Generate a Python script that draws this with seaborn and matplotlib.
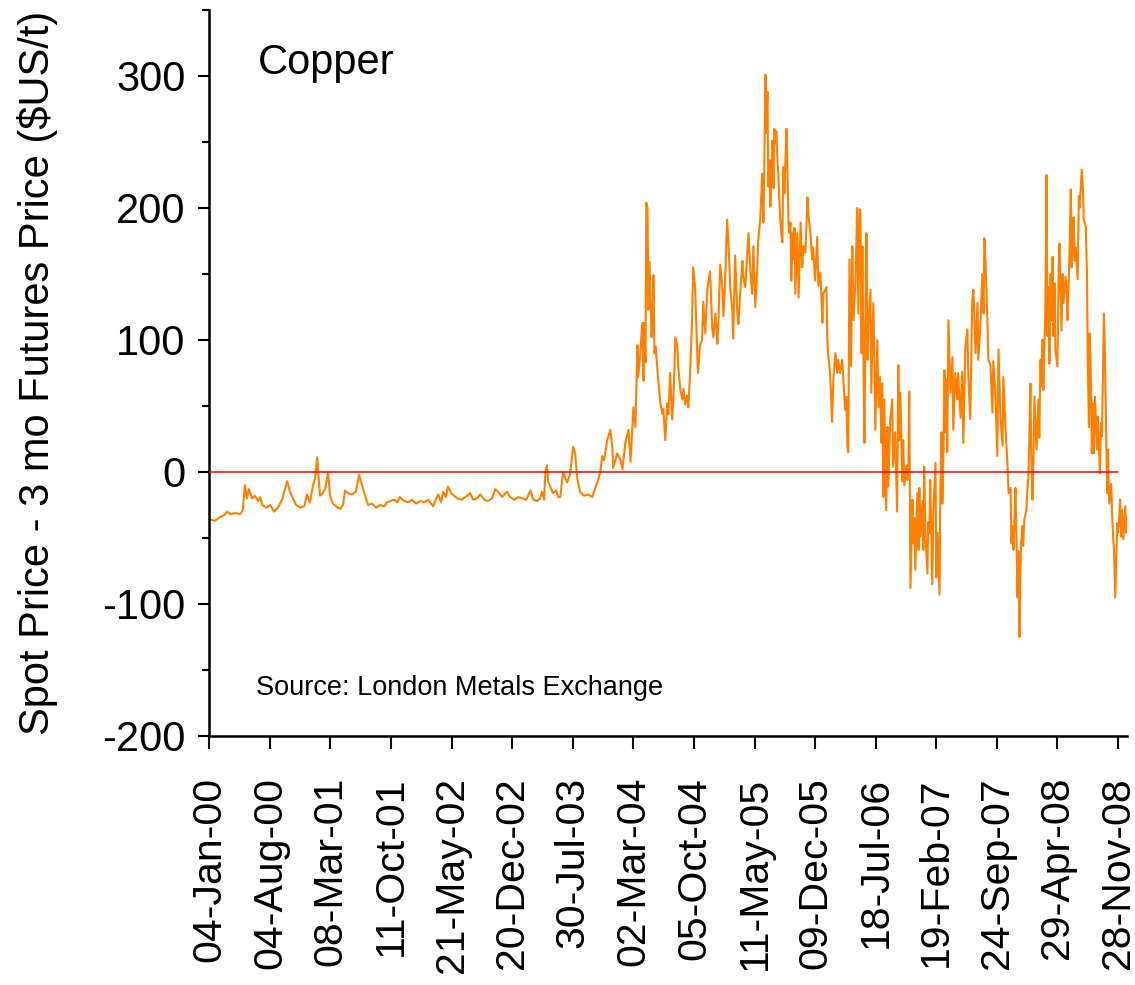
import matplotlib
matplotlib.use("Agg")
import matplotlib.pyplot as plt
from matplotlib.ticker import MultipleLocator
import pandas as pd
import seaborn as sns

# Copper: LME cash (spot) price minus 3-month futures price, $US/t.
# x = trading-day number counted from 04-Jan-2000.

# 2000 - early 2004: small backwardation / contango around -20
days_2000_2004 = [
    2, 14, 27, 36, 44, 54, 64, 76, 83, 88,
    93, 98, 106, 113, 121, 126, 131, 141, 151, 160,
    170, 180, 193, 200, 207, 215, 225, 235, 242, 249,
    257, 262, 267, 269, 274, 279, 287, 294, 299, 306,
    314, 324, 331, 336, 344, 353, 363, 371, 378, 386,
    393, 403, 413, 423, 433, 440, 448, 458, 465, 472,
    482, 492, 502, 512, 522, 532, 542, 554, 562, 567,
    574, 579, 586, 591, 599, 606, 614, 624, 634, 646,
    653, 663, 671, 681, 690, 700, 708, 715, 725, 737,
    745, 755, 765, 775, 785, 795, 802, 812, 819, 824,
    829, 832, 836, 839, 844, 851, 859, 864, 869, 876,
    886, 893, 901, 906, 911, 918, 928, 938, 948, 955,
    963, 968, 973, 978, 985, 993, 998, 1000, 1010, 1018,
    1023, 1030, 1038, 1043, 1048, 1050, 1055,
]
spread_2000_2004 = [
    -36, -37, -34, -33, -30, -32, -31, -32, -29, -10,
    -20, -13, -20, -18, -22, -19, -25, -27, -25, -30,
    -27, -21, -7, -15, -20, -25, -27, -26, -17, -23,
    -10, -5, 11, 2, -18, -17, -13, 0, -18, -24,
    -26, -28, -25, -14, -16, -17, -15, -2, -10, -18,
    -25, -24, -27, -25, -26, -23, -22, -21, -23, -19,
    -22, -23, -21, -24, -22, -23, -21, -26, -20, -17,
    -23, -15, -19, -11, -16, -18, -20, -21, -19, -16,
    -21, -20, -17, -21, -22, -20, -13, -15, -19, -15,
    -19, -21, -19, -20, -21, -14, -21, -22, -20, -15,
    -21, 0, 5, -7, -11, -16, -14, -19, -19, 0,
    -8, -2, 19, 14, -5, -15, -18, -17, -19, -13,
    -6, 0, 12, 9, 24, 32, 18, 3, 14, 9,
    2, 22, 32, 8, 37, 49, 34,
]

# 2004 - mid 2006: backwardation widens to ~300
days_2004_2006 = [
    1060, 1062, 1067, 1072, 1075, 1077, 1080, 1082, 1085, 1087,
    1090, 1095, 1097, 1100, 1102, 1105, 1110, 1112, 1117, 1122,
    1124, 1129, 1134, 1137, 1141, 1146, 1149, 1154, 1159, 1161,
    1166, 1171, 1174, 1178, 1183, 1186, 1190, 1195, 1198, 1203,
    1208, 1210, 1215, 1220, 1223, 1228, 1233, 1235, 1240, 1245,
    1248, 1253, 1258, 1260, 1265, 1270, 1273, 1277, 1282, 1285,
    1290, 1295, 1297, 1302, 1307, 1310, 1315, 1320, 1322, 1327,
    1332, 1335, 1340, 1344, 1347, 1352, 1357, 1359, 1364, 1369,
    1372, 1374, 1377, 1379, 1382, 1384, 1387, 1389, 1392, 1394,
    1397, 1399, 1402, 1404, 1407, 1409, 1412, 1416, 1419, 1421,
    1424, 1429, 1431, 1434, 1436, 1439, 1441, 1444, 1446, 1449,
    1451, 1456, 1459, 1464, 1468, 1471, 1476, 1481, 1483, 1488,
    1493, 1495, 1500, 1505, 1508, 1513, 1518, 1520, 1525, 1528,
    1530, 1532, 1537, 1542, 1545, 1550, 1555, 1557, 1562, 1567,
    1570, 1574, 1577, 1580, 1582, 1585, 1589, 1592, 1595, 1600,
    1604, 1607, 1610,
]
spread_2004_2006 = [
    96, 72, 90, 113, 69, 113, 83, 204, 200, 123,
    159, 102, 110, 149, 90, 95, 75, 68, 52, 44,
    48, 24, 52, 44, 75, 40, 55, 102, 95, 80,
    63, 55, 63, 51, 58, 49, 72, 111, 155, 139,
    90, 75, 96, 100, 129, 105, 137, 143, 152, 110,
    102, 120, 97, 110, 157, 141, 118, 144, 191, 176,
    139, 122, 101, 164, 122, 112, 138, 160, 148, 140,
    166, 181, 150, 135, 171, 125, 155, 175, 191, 226,
    189, 229, 301, 257, 288, 216, 236, 201, 225, 251,
    215, 260, 249, 258, 234, 225, 201, 181, 174, 231,
    211, 260, 236, 189, 181, 189, 145, 181, 161, 185,
    135, 181, 132, 189, 155, 171, 166, 208, 197, 181,
    161, 170, 145, 178, 141, 151, 113, 135, 138, 140,
    102, 90, 75, 38, 69, 90, 75, 85, 75, 85,
    70, 47, 57, 19, 15, 161, 80, 171, 115, 145,
    200, 120, 199,
]

# mid 2006 - end 2008: volatile swings between contango and backwardation
days_2006_2009 = [
    1612, 1615, 1617, 1620, 1622, 1625, 1627, 1630, 1632, 1637,
    1639, 1644, 1647, 1649, 1654, 1657, 1661, 1664, 1666, 1669,
    1671, 1676, 1679, 1681, 1686, 1691, 1693, 1698, 1703, 1706,
    1708, 1711, 1716, 1718, 1721, 1726, 1728, 1731, 1733, 1736,
    1741, 1743, 1746, 1748, 1753, 1756, 1758, 1761, 1766, 1768,
    1770, 1773, 1778, 1780, 1783, 1785, 1790, 1793, 1798, 1800,
    1803, 1808, 1810, 1813, 1815, 1818, 1820, 1822, 1825, 1827,
    1830, 1835, 1840, 1842, 1847, 1852, 1854, 1860, 1864, 1867,
    1872, 1877, 1879, 1884, 1889, 1892, 1897, 1902, 1904, 1909,
    1914, 1917, 1919, 1922, 1927, 1929, 1934, 1939, 1941, 1946,
    1951, 1954, 1959, 1964, 1966, 1971, 1976, 1979, 1984, 1986,
    1989, 1991, 1996, 1998, 2001, 2003, 2006, 2008, 2010, 2013,
    2015, 2018, 2023, 2025, 2028, 2030, 2033, 2035, 2038, 2040,
    2043, 2048, 2050, 2053, 2055, 2058, 2060, 2063, 2065, 2070,
    2073, 2075, 2078, 2080, 2083, 2085, 2088, 2090, 2093, 2095,
    2100, 2103, 2105, 2108, 2110, 2113, 2115, 2120, 2123, 2125,
    2130, 2133, 2135, 2138, 2140, 2143, 2145, 2150, 2153, 2155,
    2160, 2163, 2165, 2170, 2173, 2175, 2178, 2180, 2183, 2185,
    2188, 2190, 2193, 2198, 2200, 2205, 2208, 2210, 2215, 2217,
    2220, 2223, 2225, 2228, 2233, 2235, 2238, 2240, 2243, 2248,
    2250, 2253, 2255, 2258, 2260, 2263, 2268, 2270, 2272,
]
spread_2006_2009 = [
    198, 90, 171, 75, 22, 130, 181, 85, 110, 138,
    60, 128, 80, 32, 100, 49, 72, 22, 67, -19,
    55, -29, 34, -11, 40, 55, 4, 30, -30, 81,
    24, 60, -7, 24, -10, 5, -6, 4, 61, -88,
    -21, -54, -35, -74, -16, -59, -12, -49, -22, -59,
    4, -46, -77, -38, -46, -6, -85, -26, 7, -80,
    -46, -93, -14, 30, -24, 18, 77, 30, 70, 15,
    115, 60, 87, 32, 75, 55, 75, 41, 76, 22,
    95, 108, 75, 40, 130, 138, 90, 128, 85, 110,
    150, 120, 177, 158, 110, 85, 81, 45, 84, 61,
    12, 93, 40, 20, 72, 35, 7, -16, -12, -54,
    -41, -59, -12, -41, -95, -60, -125, -77, -54, -41,
    -56, -36, -29, -16, -4, 21, 67, 16, -21, 0,
    57, 17, 32, 55, 26, 85, 65, 100, 62, 123,
    225, 103, 140, 82, 150, 115, 163, 103, 143, 92,
    80, 153, 173, 133, 107, 150, 128, 148, 135, 115,
    168, 214, 155, 168, 193, 160, 170, 146, 209, 200,
    229, 214, 191, 186, 151, 82, 34, 105, 68, 14,
    52, 14, 57, 17, 42, -1, 37, 27, 120, 97,
    42, -16, 17, -24, -9, -29, -51, -59, -95, -39,
    -46, -34, -21, -49, -29, -51, -26, -46, -34,
]

# zero reference line
zero_line_days = [0, 2250]
zero_line_values = [0, 0]

# category-axis labels, one every 150 trading days
tick_labels = [
    "04-Jan-00", "04-Aug-00", "08-Mar-01", "11-Oct-01", "21-May-02",
    "20-Dec-02", "30-Jul-03", "02-Mar-04", "05-Oct-04", "11-May-05",
    "09-Dec-05", "18-Jul-06", "19-Feb-07", "24-Sep-07", "29-Apr-08",
    "28-Nov-08",
]
TICK_STEP = 150
y_ticks = [-200, -100, 0, 100, 200, 300]

sns.set_style("ticks")
plt.rcParams["font.family"] = ["Liberation Sans", "DejaVu Sans"]
plt.rcParams["axes.unicode_minus"] = False
plt.rcParams["text.color"] = "black"
plt.rcParams["axes.labelcolor"] = "black"
plt.rcParams["xtick.color"] = "black"
plt.rcParams["ytick.color"] = "black"

df = pd.DataFrame({
    "day": days_2000_2004 + days_2004_2006 + days_2006_2009,
    "spread": spread_2000_2004 + spread_2004_2006 + spread_2006_2009,
})

fig = plt.figure(figsize=(11.35, 9.85), dpi=100)
ax = fig.add_axes([0.1844, 0.2528, 0.8085, 0.7371])

sns.lineplot(data=df, x="day", y="spread", ax=ax, color="#FF8000",
             linewidth=1.5, estimator=None, sort=False)
sns.lineplot(x=zero_line_days, y=zero_line_values, ax=ax, color="#FF0000",
             linewidth=1.1, zorder=3)

ax.set_xlim(0, 2272)
ax.set_ylim(-200, 350)
ax.set_yticks(y_ticks)
ax.yaxis.set_minor_locator(MultipleLocator(50))
ax.set_xticks([i * TICK_STEP for i in range(len(tick_labels))])
ax.set_xticklabels(tick_labels, rotation=90, ha="center", va="top")

ax.tick_params(axis="y", which="major", direction="out", length=8,
               width=1.5, pad=9, labelsize=30, color="black",
               labelcolor="black")
ax.tick_params(axis="y", which="minor", direction="out", length=5,
               width=1.5, color="black")
ax.tick_params(axis="x", which="major", direction="out", length=9.5,
               width=1.5, pad=20, labelsize=29.5, color="black",
               labelcolor="black")

for side in ("top", "right"):
    ax.spines[side].set_visible(False)
for side in ("left", "bottom"):
    ax.spines[side].set_linewidth(1.8)
    ax.spines[side].set_color("black")

ax.set_xlabel("")
ax.set_ylabel("Spot Price - 3 mo Futures Price ($US/t)", fontsize=30,
              color="black")
ax.yaxis.set_label_coords(-0.1649, 0.5)

ax.text(0.053, 0.9118, "Copper", transform=ax.transAxes, fontsize=30,
        ha="left", va="baseline", color="black")
ax.text(0.0509, 0.0565, "Source: London Metals Exchange",
        transform=ax.transAxes, fontsize=19.5, ha="left", va="baseline",
        color="black")

fig.savefig("out.png", dpi=100)
